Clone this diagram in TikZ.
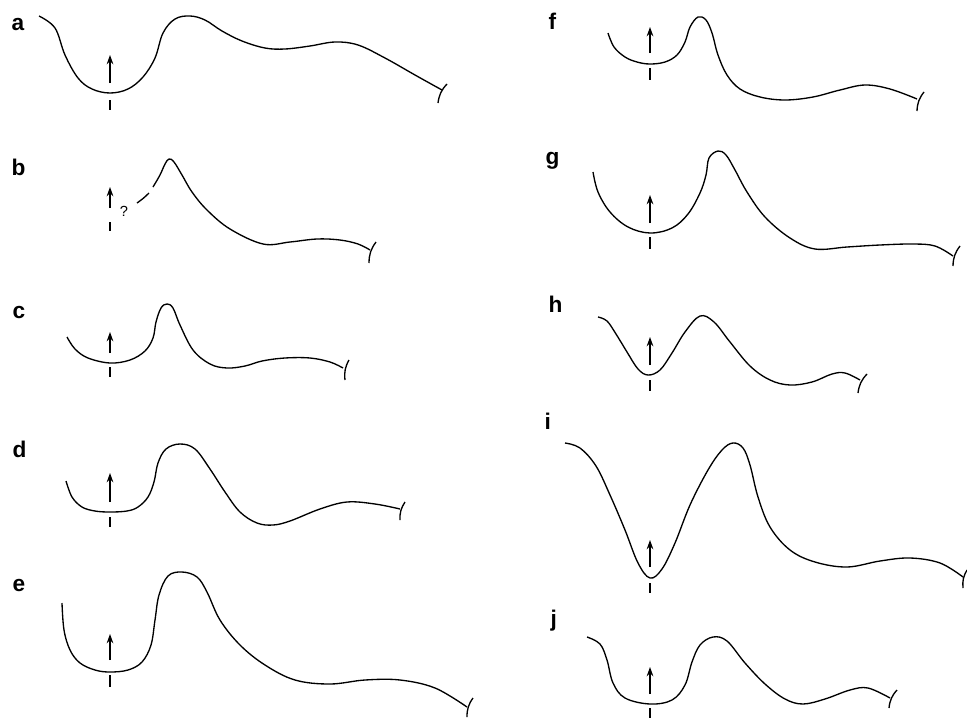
\documentclass[tikz,border=0pt]{standalone}
\usepackage{fontspec}
\setmainfont{Liberation Sans}
\usetikzlibrary{arrows.meta}

\begin{document}
\begin{tikzpicture}[x=0.75pt,y=-0.75pt,line width=1pt,
    curve/.style={smooth,tension=0.6},
    kick/.style={-{Stealth[length=7pt,width=5pt]}},
    stopmark/.style={bend right=18},
    panel/.style={font=\fontsize{17}{17}\selectfont\bfseries,anchor=base west,inner sep=0pt}]
    \useasboundingbox (0,0) rectangle (967,718);

    % left column
    \node[panel] (la) at (11,30) {a};
    \draw plot[curve] coordinates {(39,16) (55,28) (65,55) (78,78) (92,89) (110,93) (128,89) (143,77)
      (155,58) (163,33) (175,19) (190,16) (205,20) (222,31) (242,41) (265,48) (285,49) (310,46)
      (335,42) (358,45) (385,58) (415,75) (442,90)};
    \draw (447,84) to[stopmark] (438,103);
    \draw[kick] (110,83) -- (110,55);
    \draw (110,100) -- (110,110);

    \node[panel] (lb) at (11,175) {b};
    \draw (137,203) to[bend right=5] (149,193);
    \draw plot[curve] coordinates {(153,187) (160,175) (165,164) (169,159) (174,162) (182,175)
      (192,192) (207,210) (230,229) (263,244) (290,242) (317,239) (340,240) (358,244) (370,250)};
    \draw (376,242) to[stopmark] (369,263);
    \draw[kick] (110,208) -- (110,187);
    \draw (110,222) -- (110,231);
    \node[font=\fontsize{11}{11}\selectfont,inner sep=0pt] (qb) at (124,211) {?};

    \node[panel] (lc) at (12,318) {c};
    \draw plot[curve] coordinates {(67,337) (75,349) (88,358) (110,363) (130,360) (145,351) (153,338)
      (156,322) (161,308) (167,304) (173,308) (180,325) (193,350) (210,364) (227,368) (245,366)
      (262,361) (285,358) (310,358) (330,362) (343,368)};
    \draw (349,360) to[stopmark] (345,380);
    \draw[kick] (110,353) -- (110,332);
    \draw (110,367) -- (110,377);

    \node[panel] (ld) at (12,457) {d};
    \draw plot[curve] coordinates {(66,481) (72,497) (82,507) (95,511) (110,512) (127,511) (138,507)
      (148,497) (154,482) (158,463) (166,449) (180,444) (195,449) (210,469) (225,492) (240,512)
      (257,523) (273,525) (290,521) (320,509) (347,502) (375,504) (400,509)};
    \draw (405,502) to[stopmark] (400,520);
    \draw[kick] (110,502) -- (110,473);
    \draw (110,517) -- (110,527);

    \node[panel] (le) at (12,591) {e};
    \draw plot[curve] coordinates {(62,603) (64,630) (70,650) (80,663) (95,670) (110,672) (128,670)
      (142,662) (151,645) (155,620) (159,595) (168,576) (182,572) (197,577) (207,592) (220,620)
      (240,645) (265,665) (295,680) (330,684) (365,680) (400,680) (435,688) (467,707)};
    \draw (473,698) to[stopmark] (467,717);
    \draw[kick] (110,660) -- (110,634);
    \draw (110,675) -- (110,687);

    % right column
    \node[panel] (lf) at (548,29) {f};
    \draw plot[curve] coordinates {(608,33) (614,47) (625,57) (637,62) (650,64) (665,62) (677,55)
      (685,42) (690,27) (698,17) (706,20) (712,33) (718,55) (727,75) (740,89) (760,97) (785,100)
      (813,97) (840,90) (865,85) (890,89) (917,99)};
    \draw (924,92) to[stopmark] (917,111);
    \draw[kick] (650,53) -- (650,27);
    \draw (650,68) -- (650,80);

    \node[panel] (lg) at (545,164) {g};
    \draw plot[curve] coordinates {(593,172) (598,192) (610,212) (628,227) (650,233) (672,228)
      (688,214) (700,193) (706,175) (709,158) (718,151) (726,155) (735,170) (747,192)
      (765,217) (790,238) (815,249) (847,247) (880,245) (913,244) (935,246) (953,256)};
    \draw (960,246) to[stopmark] (953,266);
    \draw[kick] (650,223) -- (650,195);
    \draw (650,237) -- (650,249);

    \node[panel] (lh) at (548,312) {h};
    \draw plot[curve] coordinates {(598,317) (607,321) (616,334) (627,352) (638,369) (648,375)
      (660,370) (672,353) (685,332) (700,316) (714,322) (730,342) (750,366) (770,380) (790,385)
      (812,382) (832,374) (845,373) (860,380)};
    \draw (867,374) to[stopmark] (858,393);
    \draw[kick] (650,365) -- (650,337);
    \draw (650,380) -- (650,391);

    \node[panel] (li) at (544,429) {i};
    \draw plot[curve] coordinates {(565,443) (580,448) (596,466) (610,495) (625,530) (638,563)
      (650,578) (662,569) (675,543) (690,505) (708,470) (722,450) (733,443) (743,448) (750,465)
      (758,497) (770,527) (790,550) (815,562) (847,567) (880,561) (910,558) (940,563) (963,577)};
    \draw (967,570) to[stopmark] (963,588);
    \draw[kick] (650,567) -- (650,540);
    \draw (650,583) -- (650,593);

    \node[panel] (lj) at (550,626) {j};
    \draw plot[curve] coordinates {(587,637) (600,644) (607,660) (613,683) (625,698) (650,704)
      (672,700) (685,685) (692,662) (700,645) (713,637) (727,641) (745,663) (765,684) (785,699)
      (803,704) (825,699) (850,690) (868,688) (890,698)};
    \draw (897,690) to[stopmark] (889,708);
    \draw[kick] (650,694) -- (650,667);
    \draw (650,708) -- (650,718);
\end{tikzpicture}
\end{document}
